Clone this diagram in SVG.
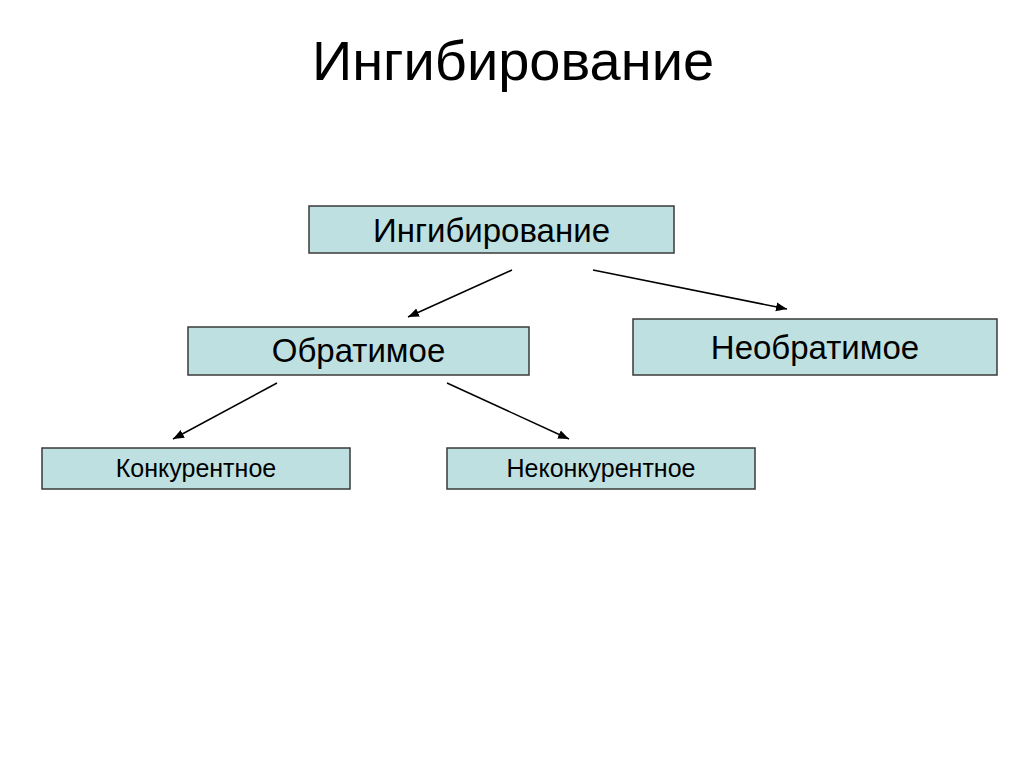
<svg xmlns="http://www.w3.org/2000/svg" width="1024" height="767" viewBox="0 0 1024 767">
<style>
.box{fill:#BEE0E0;stroke:#3a3a3a;stroke-width:1.5}
.t{font-family:"Liberation Sans",Arial,sans-serif;fill:#000;text-anchor:middle}
.c{stroke:#000;stroke-width:1.5;fill:none;marker-end:url(#ah)}
</style>
<defs>
<marker id="ah" viewBox="0 0 10 10" refX="10" refY="5" markerWidth="11" markerHeight="11" markerUnits="userSpaceOnUse" orient="auto">
<path d="M0,1 L10,5 L0,9 z" fill="#000"/>
</marker>
</defs>
<rect width="1024" height="767" fill="#fff"/>
<text class="t" x="513" y="80" font-size="56">Ингибирование</text>
<g id="connectors">
<line class="c" x1="512" y1="270" x2="408" y2="317"/>
<line class="c" x1="593" y1="270" x2="787" y2="309"/>
<line class="c" x1="277" y1="383" x2="173" y2="439"/>
<line class="c" x1="447" y1="383" x2="569" y2="439"/>
</g>
<g id="n-root">
<rect class="box" x="309" y="206" width="365" height="47"/>
<text class="t" x="491.5" y="242" font-size="33">Ингибирование</text>
</g>
<g id="n-reversible">
<rect class="box" x="188" y="327" width="341" height="48"/>
<text class="t" x="358.5" y="362" font-size="33">Обратимое</text>
</g>
<g id="n-irreversible">
<rect class="box" x="633" y="319" width="364" height="56"/>
<text class="t" x="815" y="359" font-size="33">Необратимое</text>
</g>
<g id="n-competitive">
<rect class="box" x="42" y="448" width="308" height="41"/>
<text class="t" x="196" y="477" font-size="25">Конкурентное</text>
</g>
<g id="n-noncompetitive">
<rect class="box" x="447" y="448" width="308" height="41"/>
<text class="t" x="601" y="477" font-size="25">Неконкурентное</text>
</g>
</svg>
